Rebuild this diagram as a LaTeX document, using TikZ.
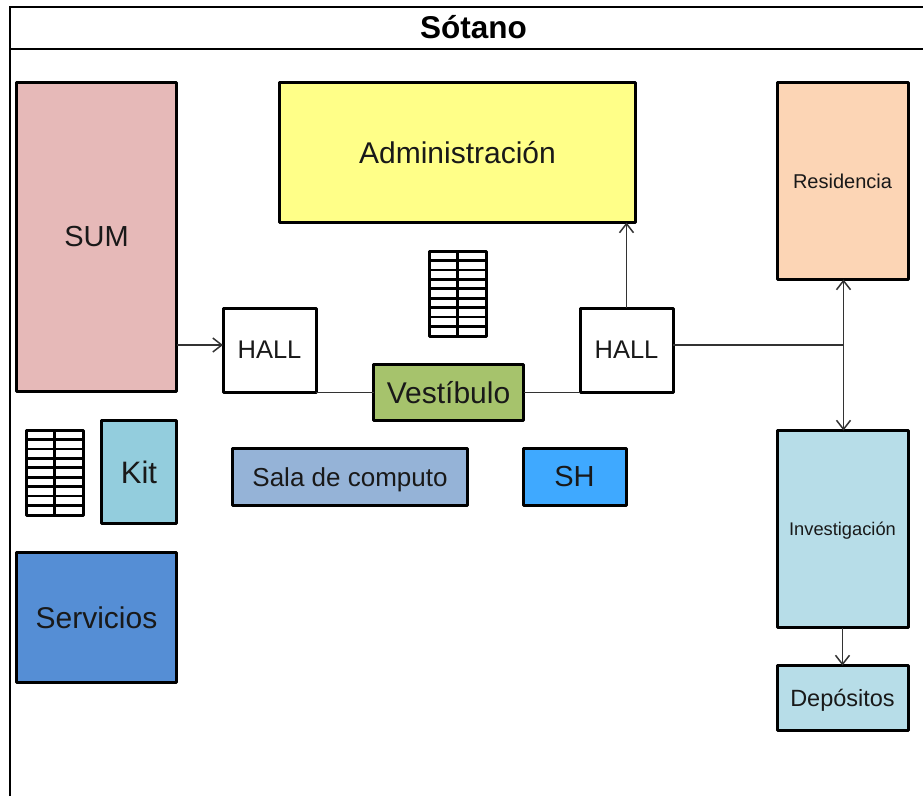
\documentclass[tikz,border=0pt]{standalone}
\usepackage{fontspec}
\setmainfont{Liberation Sans}
\usetikzlibrary{arrows.meta}
\definecolor{sumc}{HTML}{E6B9B8}
\definecolor{admc}{HTML}{FFFF88}
\definecolor{resc}{HTML}{FCD5B5}
\definecolor{vesc}{HTML}{A6C36C}
\definecolor{kitc}{HTML}{93CDDD}
\definecolor{salc}{HTML}{95B3D7}
\definecolor{shc}{HTML}{3FA9FF}
\definecolor{serc}{HTML}{558ED5}
\definecolor{invc}{HTML}{B7DDE8}
\tikzset{
 x=1pt,y=-1pt,
 room/.style={draw=black,line width=3pt,line join=round,inner sep=0pt,outer sep=0pt,text=black!90,font=\fontsize{#1}{#1}\selectfont},
 room/.default=28,
 nodepth/.style={text depth=0pt},
 link/.style={draw=black!80,line width=1.5pt},
 tip/.style={-{Straight Barb[length=9pt,width=14pt,line width=1.5pt]}},
 dtip/.style={{Straight Barb[length=9pt,width=14pt,line width=1.5pt]}-{Straight Barb[length=9pt,width=14pt,line width=1.5pt]}},
 frameline/.style={draw=black,line width=2.2pt},
 gridline/.style={draw=black,line width=3pt,line join=round},
 pics/bench/.style={code={
   \draw[gridline,fill=white] (0,0) rectangle (57,85);
   \draw[gridline] (28.5,0) -- (28.5,85);
   \foreach \k in {1,...,8}{\draw[gridline,line width=2.6pt] (0,9.44*\k) -- (57,9.44*\k);}
 }}
}
\begin{document}
\begin{tikzpicture}
\useasboundingbox (0,0) rectangle (923,796);
\fill[white] (0,0) rectangle (923,796);
% frame
\draw[frameline] (10,796) -- (10,7) -- (923,7);
\draw[frameline] (10,49) -- (923,49);
\node[font=\bfseries\fontsize{31.5}{31.5}\selectfont] (title) at (473.5,27) {Sótano};
% rooms
\node[room=29,fill=sumc,minimum width=160pt,minimum height=309pt] (sum) at (96.5,237) {\raisebox{-1pt}{SUM}};
\node[room=30,fill=admc,minimum width=356pt,minimum height=140pt] (adm) at (457.5,152.5) {Administración};
\node[room=20,fill=resc,minimum width=131pt,minimum height=197pt] (res) at (842.5,181) {Residencia};
\node[room=25.5,fill=white,minimum width=93pt,minimum height=84pt] (h1) at (269.5,350) {HALL};
\node[room=25.5,fill=white,minimum width=93pt,minimum height=84pt] (h2) at (626.5,350) {HALL};
\node[room=30,fill=vesc,minimum width=150pt,minimum height=56pt] (ves) at (448.5,392.5) {Vestíbulo};
\node[room=31,fill=kitc,minimum width=75pt,minimum height=103pt] (kit) at (139,472) {Kit};
\node[room=26,nodepth,fill=salc,minimum width=235pt,minimum height=57pt] (sal) at (350,477) {Sala de computo};
\node[room=29,fill=shc,minimum width=103pt,minimum height=57pt] (sh) at (574.5,477) {SH};
\node[room=30,fill=serc,minimum width=160pt,minimum height=130pt] (ser) at (96.5,617.5) {Servicios};
\node[room=18.3,nodepth,fill=invc,minimum width=131pt,minimum height=197pt] (inv) at (842.5,529) {Investigación};
\node[room=23.5,nodepth,fill=invc,minimum width=131pt,minimum height=65pt] (dep) at (842.5,698) {Depósitos};
% benches
\pic at (429,251) {bench};
\pic at (26,430) {bench};
% connectors
\coordinate (j) at (843.5,345);
\draw[link,tip] (sum.east |- 0,345) -- (h1.west |- 0,345);
\draw[link] (h1.east |- 0,392.5) -- (ves.west);
\draw[link] (ves.east) -- (h2.west |- 0,392.5);
\draw[link,tip] (h2.north) -- (adm.south -| h2.north);
\draw[link] (h2.east |- j) -- (j);
\draw[link,dtip] (res.south -| j) -- (inv.north -| j);
\draw[link,tip] (inv.south) -- (dep.north);
\end{tikzpicture}
\end{document}
